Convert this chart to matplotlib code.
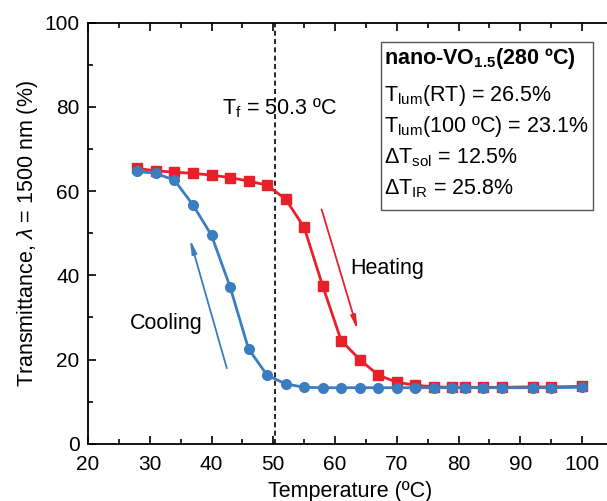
import numpy as np
import matplotlib
matplotlib.use("Agg")
import matplotlib.pyplot as plt
from matplotlib.patches import Rectangle
from matplotlib.ticker import MultipleLocator

plt.rcParams["font.family"] = ["Liberation Sans", "DejaVu Sans"]
plt.rcParams["mathtext.fontset"] = "custom"
plt.rcParams["mathtext.rm"] = "Liberation Sans"
plt.rcParams["mathtext.it"] = "Liberation Sans:italic"
plt.rcParams["mathtext.bf"] = "Liberation Sans:bold"

# heating curve (red squares)
temp_heat = [28, 31, 34, 37, 40, 43, 46, 49, 52, 55, 58, 61, 64, 67, 70, 73,
             76, 79, 81, 84, 87, 92, 95, 100]
trans_heat = [65.4, 64.8, 64.5, 64.2, 63.8, 63.2, 62.4, 61.4, 58.1, 51.4, 37.5,
              24.5, 20.0, 16.3, 14.6, 13.9, 13.5, 13.4, 13.4, 13.4, 13.4, 13.5,
              13.5, 13.6]

# cooling curve (blue circles)
temp_cool = [28, 31, 34, 37, 40, 43, 46, 49, 52, 55, 58, 61, 64, 67, 70, 73,
             76, 79, 81, 84, 87, 92, 95, 100]
trans_cool = [64.7, 64.2, 62.6, 56.7, 49.5, 37.3, 22.5, 16.3, 14.2, 13.4, 13.3,
              13.3, 13.3, 13.3, 13.3, 13.3, 13.3, 13.3, 13.3, 13.3, 13.3, 13.3,
              13.3, 13.4]

t_f = 50.3
box_lines = [
    r"nano-VO$_{\bf 1.5}$(280 ºC)",
    r"T$_{\rm lum}$(RT) = 26.5%",
    r"T$_{\rm lum}$(100 ºC) = 23.1%",
    r"ΔT$_{\rm sol}$ = 12.5%",
    r"ΔT$_{\rm IR}$ = 25.8%",
]

red = "#E8202A"
blue = "#3A7EC0"
fs = 15.5

fig = plt.figure(figsize=(6.07, 5.01), dpi=100)
ax = fig.add_axes([88 / 607, (501 - 443.7) / 501, 85 * 6.175 / 607, 421 / 501])

ax.plot(temp_heat, trans_heat, color=red, lw=2, marker="s", ms=6.5, zorder=3)
ax.plot(temp_cool, trans_cool, color=blue, lw=2, marker="o", ms=7, zorder=4)
ax.axvline(t_f, color="black", ls=(0, (3, 2)), lw=1.2, zorder=2)

ax.annotate("", xy=(36.4, 49.2), xytext=(42.6, 17.3),
            arrowprops=dict(arrowstyle="-|>,head_length=0.8,head_width=0.15",
                            color=blue, lw=1.3))
ax.annotate("", xy=(63.8, 26.4), xytext=(57.7, 56.3),
            arrowprops=dict(arrowstyle="-|>,head_length=0.8,head_width=0.15",
                            color=red, lw=1.3))

ax.text(62.4, 41.7, "Heating", fontsize=fs, va="center")
ax.text(26.8, 28.6, "Cooling", fontsize=fs, va="center")
ax.text(41.7, 79.7, r"T$_{\rm f}$ = 50.3 ºC", fontsize=fs, va="center")

ax.add_patch(Rectangle((67.45, 55.5), 34.35, 39.9, fill=False, lw=1.0,
                       edgecolor="#555555", zorder=5))
ys = [91.6, 82.8, 75.4, 68.0, 60.6]
for i, (s, y) in enumerate(zip(box_lines, ys)):
    ax.text(67.9, y, s, fontsize=fs, va="center",
            fontweight="bold" if i == 0 else "normal", zorder=6)

ax.set_xlim(20, 105)
ax.set_ylim(0, 100)
ax.xaxis.set_major_locator(MultipleLocator(10))
ax.xaxis.set_minor_locator(MultipleLocator(5))
ax.yaxis.set_major_locator(MultipleLocator(20))
ax.yaxis.set_minor_locator(MultipleLocator(10))
ax.tick_params(which="both", direction="in", top=True, right=False,
               labelsize=15, width=1.2)
ax.tick_params(which="major", length=6)
ax.tick_params(which="minor", length=3.5)
ax.tick_params(axis="x", pad=8)
ax.tick_params(axis="y", pad=6)
for sp in ax.spines.values():
    sp.set_linewidth(1.3)

ax.set_xlabel("Temperature (ºC)", fontsize=fs, labelpad=5)
ax.set_ylabel(r"Transmittance, $\lambda$ = 1500 nm (%)", fontsize=fs, labelpad=3)

fig.savefig("out.png", dpi=100)
